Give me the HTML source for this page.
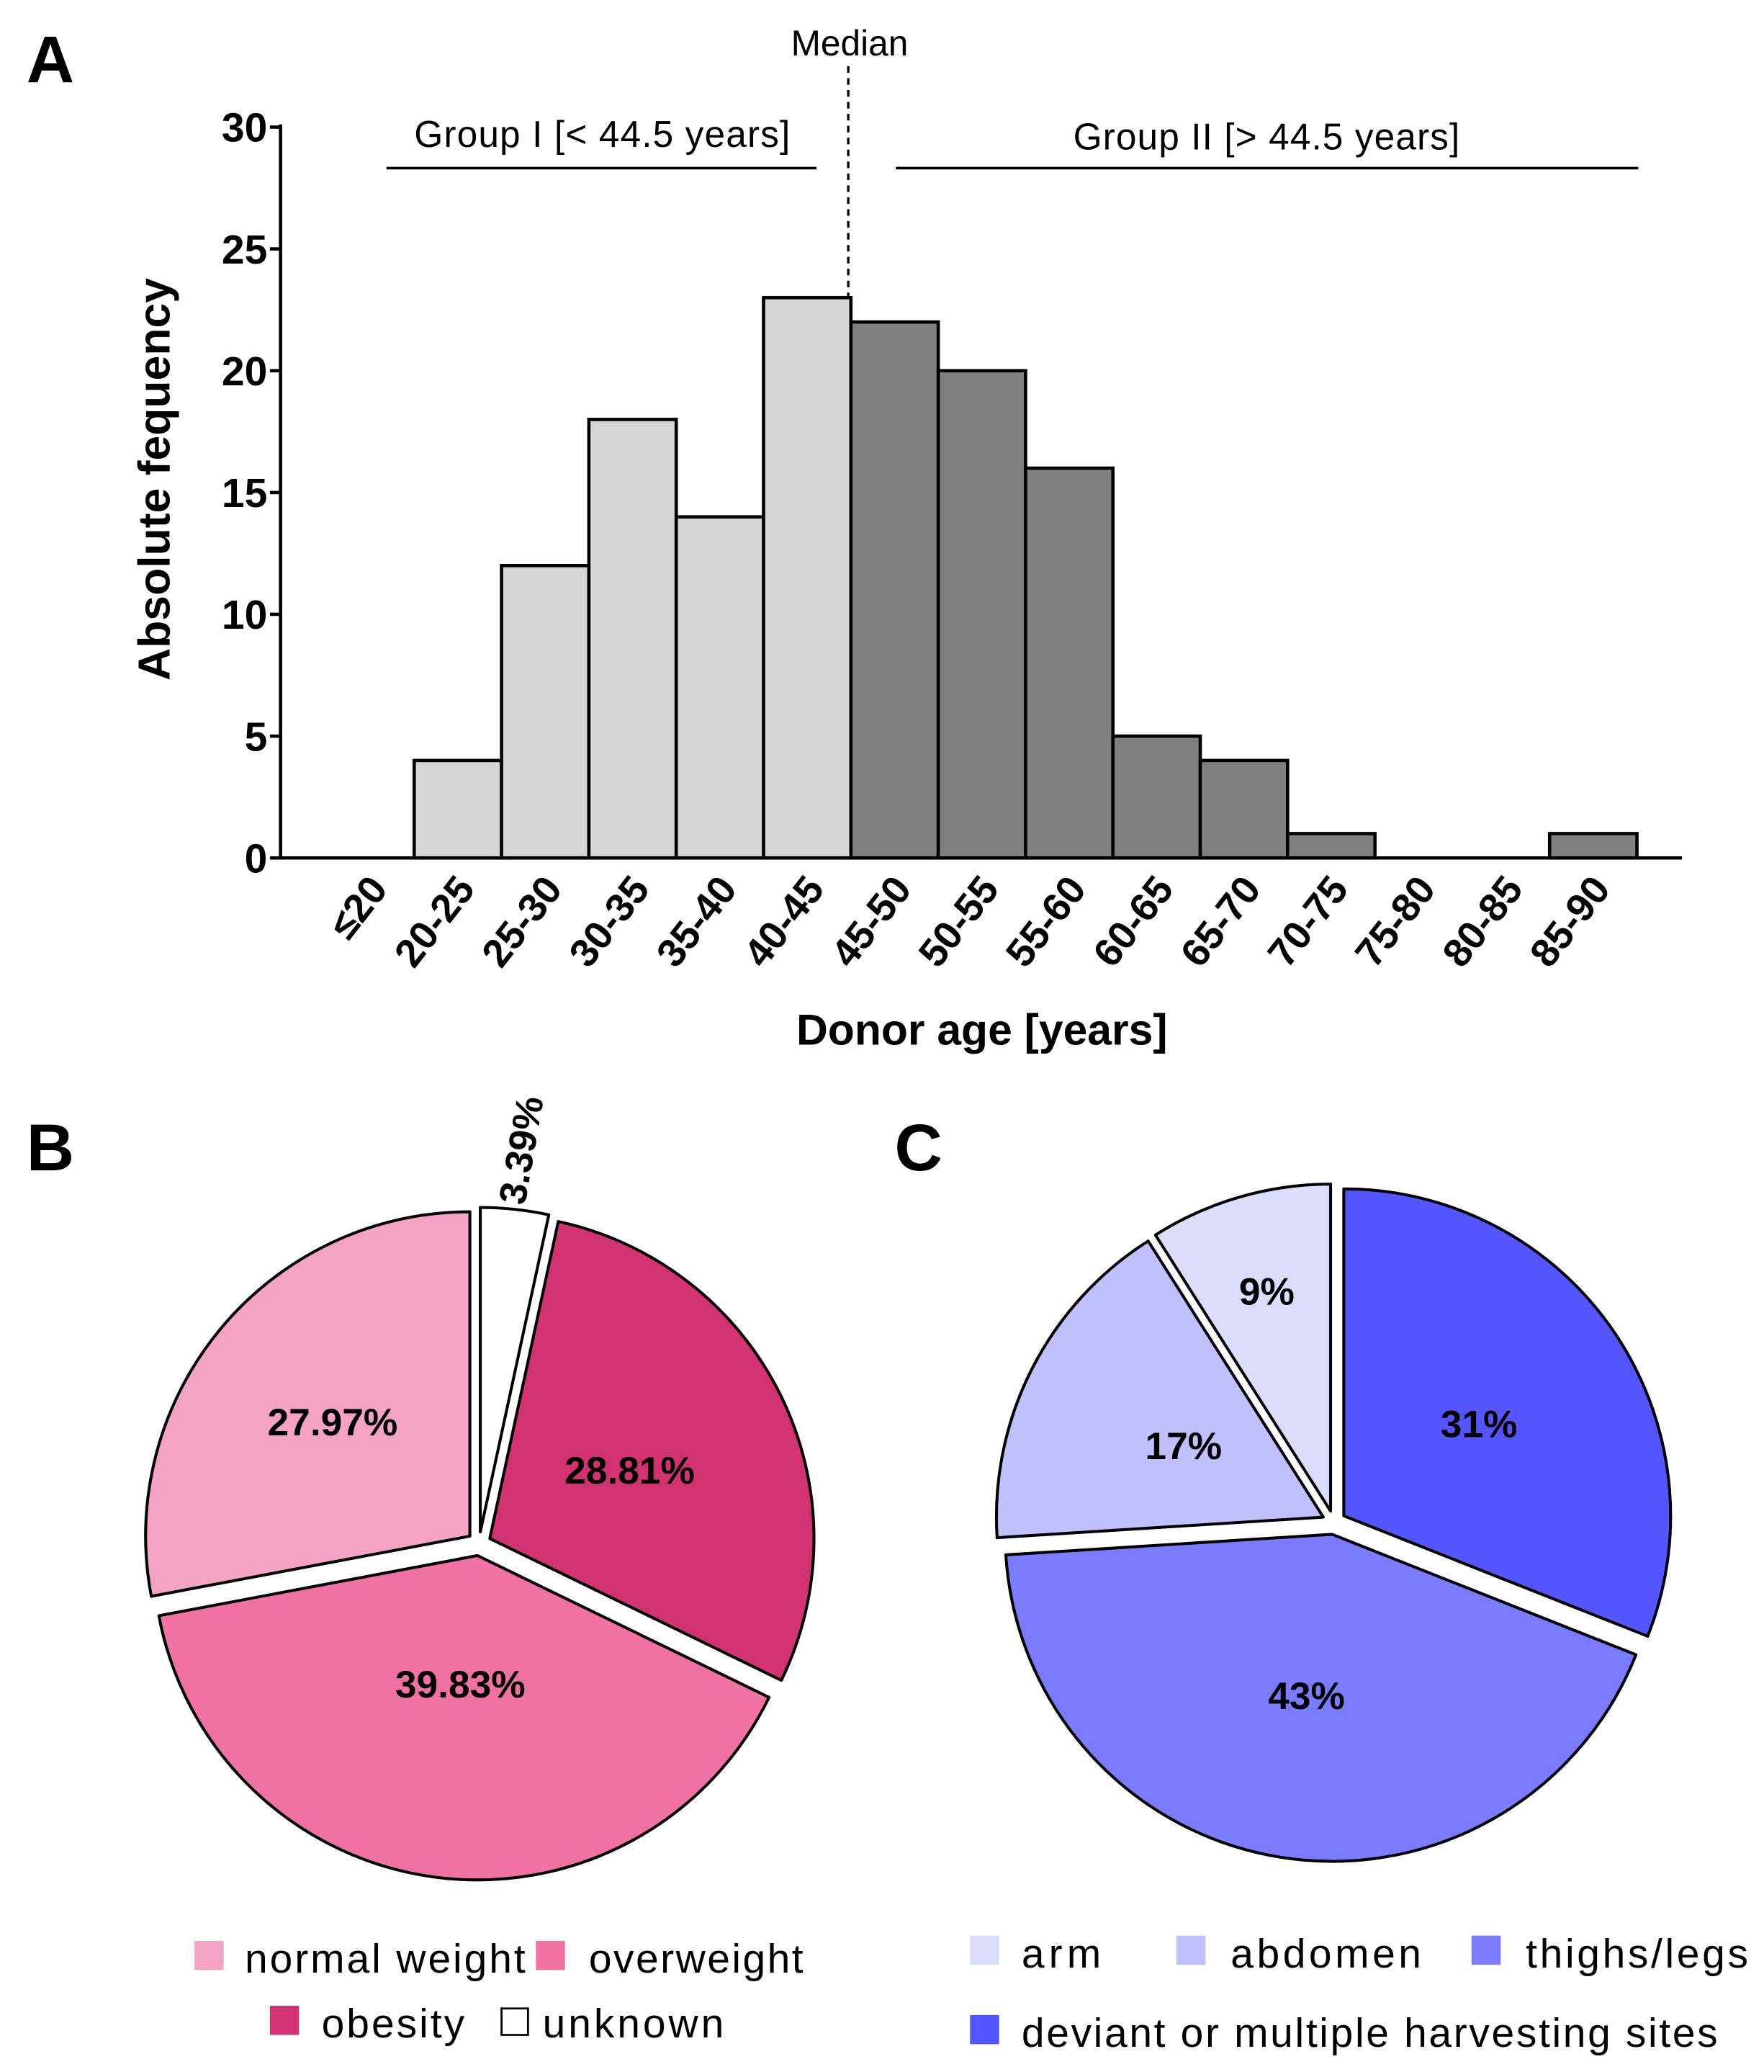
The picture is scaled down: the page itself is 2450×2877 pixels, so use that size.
<!DOCTYPE html>
<html><head><meta charset="utf-8"><style>
html,body{margin:0;padding:0;background:#fff}
svg{display:block}
text{font-family:"Liberation Sans",Arial,sans-serif}
</style></head><body>
<svg id="fig" width="2450" height="2877" viewBox="0 0 1333 1565" preserveAspectRatio="none" xmlns="http://www.w3.org/2000/svg">
<text x="20" y="62" font-size="50" font-weight="bold">A</text>
<text x="20" y="884" font-size="50" font-weight="bold">B</text>
<text x="676" y="884" font-size="50" font-weight="bold">C</text>
<g id="hist"></g>
<g id="pieB"></g>
<g id="pieC"></g>
<g font-size="31">
 <rect x="147" y="1466" width="22" height="22" fill="#f5a3c3"/>
 <text x="185" y="1490" textLength="212">normal weight</text>
 <rect x="405" y="1466" width="22" height="22" fill="#f072a4"/>
 <text x="445" y="1490" textLength="162">overweight</text>
 <rect x="204" y="1515" width="22" height="22" fill="#d13372"/>
 <text x="243" y="1539" textLength="108">obesity</text>
 <rect x="379" y="1517" width="20" height="20" fill="#fff" stroke="#000" stroke-width="1.5"/>
 <text x="410" y="1539" textLength="137">unknown</text>
</g>
<g font-size="31">
 <rect x="733" y="1462" width="22" height="22" fill="#dcdcfc"/>
 <text x="772" y="1486" textLength="60">arm</text>
 <rect x="889" y="1462" width="22" height="22" fill="#c0c0ff"/>
 <text x="930" y="1486" textLength="144">abdomen</text>
 <rect x="1112" y="1462" width="22" height="22" fill="#7b7bff"/>
 <text x="1153" y="1486" textLength="168">thighs/legs</text>
 <rect x="733" y="1522" width="22" height="22" fill="#5555ff"/>
 <text x="772" y="1546" textLength="526">deviant or multiple harvesting sites</text>
</g>
</svg>
<script>
const ageBins = ["\u226420","20-25","25-30","30-35","35-40","40-45","45-50","50-55","55-60","60-65","65-70","70-75","75-80","80-85","85-90"];
const ageCounts = [0,4,12,18,14,23,22,20,16,5,4,1,0,0,1];
const yTicks = [0,5,10,15,20,25,30];
const bmiLabels = ["unknown","obesity","overweight","normal weight"];
const bmiValues = [3.39,28.81,39.83,27.97];
const bmiText = ["3.39%","28.81%","39.83%","27.97%"];
const siteLabels = ["deviant","thighs/legs","abdomen","arm"];
const siteValues = [31,43,17,9];
const siteText = ["31%","43%","17%","9%"];

const NS="http://www.w3.org/2000/svg";
function mk(tag,attrs,parent,txt){const e=document.createElementNS(NS,tag);for(const k in attrs)e.setAttribute(k,attrs[k]);if(txt!==undefined)e.textContent=txt;parent.appendChild(e);return e;}

const H=document.getElementById('hist');
const x0=247,bw=66,yBase=648,yTop=96,yMax=30;
const yS=v=>yBase-(yBase-yTop)*v/yMax;
const xS=i=>x0+bw*i;
ageCounts.forEach((c,i)=>{
  if(c<=0)return;
  const r=mk('rect',{x:xS(i),y:yS(c),width:bw,height:yBase-yS(c),fill:i<6?'#d6d6d6':'#808080',stroke:'#000','stroke-width':2.5},H);
  
  
});
const ya=mk('line',{x1:212,y1:yTop-2,x2:212,y2:yBase,stroke:'#000','stroke-width':2.5},H);


const xa=mk('line',{x1:211,y1:yBase,x2:1271,y2:yBase,stroke:'#000','stroke-width':2.5},H);


yTicks.forEach(t=>{
  const tk=mk('line',{x1:204,x2:212,y1:yS(t),y2:yS(t),stroke:'#000','stroke-width':2.5},H);
  
  
  const tl=mk('text',{x:202,y:yS(t)+11,'text-anchor':'end','font-size':31,'font-weight':'bold'},H,String(t));
  
  
});
ageBins.forEach((b,i)=>{
  const cx=xS(i)+bw/2+14, cy=672;
  const t=mk('text',{x:cx,y:cy,'text-anchor':'end','font-size':30,'font-weight':'bold',transform:`rotate(-52 ${cx} ${cy})`},H,b);
  
  
});
const yt=mk('text',{x:0,y:0,'text-anchor':'middle','font-size':34,'font-weight':'bold',transform:'translate(128 362) rotate(-90)'},H,'Absolute fequency');


const xt=mk('text',{x:742,y:789,'text-anchor':'middle','font-size':33,'font-weight':'bold'},H,'Donor age [years]');


const med=mk('line',{x1:641,y1:50,x2:641,y2:yS(23),stroke:'#000','stroke-width':1.8,'stroke-dasharray':'5,4'},H);


const mt=mk('text',{x:642,y:42,'text-anchor':'middle','font-size':27},H,'Median');


const g1=mk('line',{x1:292,y1:127,x2:617,y2:127,stroke:'#000','stroke-width':2},H);


const g2=mk('line',{x1:677,y1:127,x2:1238,y2:127,stroke:'#000','stroke-width':2},H);


const g1t=mk('text',{x:455,y:111,'text-anchor':'middle','font-size':28,textLength:284},H,'Group I [< 44.5 years]');


const g2t=mk('text',{x:957,y:113,'text-anchor':'middle','font-size':28,textLength:292},H,'Group II [> 44.5 years]');



function pie(gid,cx,cy,R,off,vals,cols,labels,texts,labR,prefix,outsideIdx){
  const G=document.getElementById(gid);
  const tot=vals.reduce((a,b)=>a+b,0);
  let a=0;
  vals.forEach((v,i)=>{
    const a1=a, a2=a+v/tot*2*Math.PI; a=a2;
    const mid=(a1+a2)/2;
    const ox=cx+off*Math.sin(mid), oy=cy-off*Math.cos(mid);
    const p1=[ox+R*Math.sin(a1),oy-R*Math.cos(a1)], p2=[ox+R*Math.sin(a2),oy-R*Math.cos(a2)];
    const large=(a2-a1)>Math.PI?1:0;
    const p=mk('path',{d:`M${ox},${oy} L${p1[0]},${p1[1]} A${R},${R} 0 ${large} 1 ${p2[0]},${p2[1]} Z`,fill:cols[i],stroke:'#000','stroke-width':2.2,'stroke-linejoin':'round'},G);
    
    
    let t;
    if(i===outsideIdx){
      const lx=ox+(R+45)*Math.sin(mid), ly=oy-(R+45)*Math.cos(mid);
      t=mk('text',{x:lx,y:ly+10,'text-anchor':'middle','font-size':29,'font-weight':'bold',transform:`rotate(-80 ${lx} ${ly})`},G,texts[i]);
    } else {
      const lr=labR[i]*R;
      const lx=ox+lr*Math.sin(mid), ly=oy-lr*Math.cos(mid);
      t=mk('text',{x:lx,y:ly+10,'text-anchor':'middle','font-size':29,'font-weight':'bold'},G,texts[i]);
    }
    
    
  });
}
pie('pieB',362,1166,245,9,bmiValues,['#ffffff','#d13372','#f072a4','#f5a3c3'],bmiLabels,bmiText,[0.5,0.48,0.4,0.55],'bmi',0);
pie('pieC',1008,1150,247,9,siteValues,['#5555ff','#7b7bff','#c0c0ff','#dcdcfc'],siteLabels,siteText,[0.5,0.5,0.48,0.7],'site',-1);
</script>
</body></html>
